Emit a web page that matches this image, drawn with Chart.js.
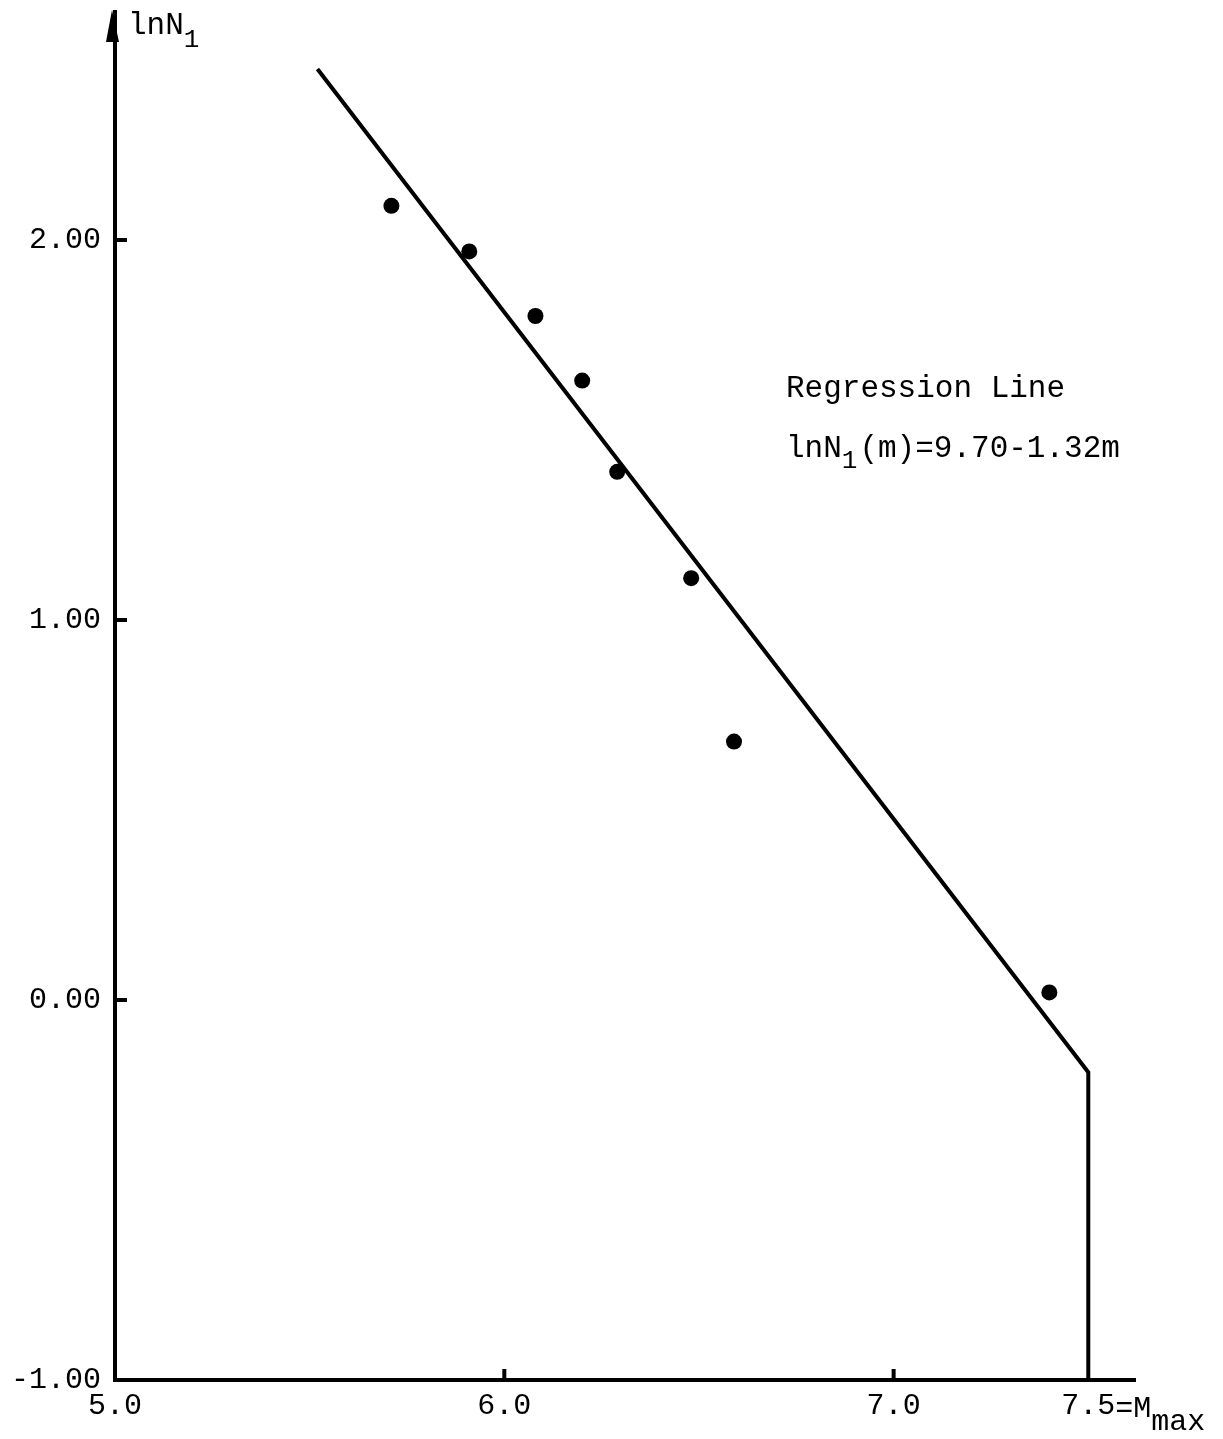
<!DOCTYPE html>
<html>
<head>
<meta charset="utf-8">
<title>lnN1 vs magnitude</title>
<script src="https://cdn.jsdelivr.net/npm/chart.js@4.4.1/dist/chart.umd.min.js"></script>
<style>
  body { margin: 0; background: #fff; }
  #wrap { position: relative; width: 1223px; height: 1439px; }
</style>
</head>
<body>
<div id="wrap"><canvas id="chart"></canvas></div>
<script>
// tick labels
var xTicks = [5.0, 6.0, 7.0, 7.5];
var yTicks = [-1.0, 0.0, 1.0, 2.0];

// observed points (magnitude m, lnN1)
var magnitude = [5.71, 5.91, 6.08, 6.20, 6.29, 6.48, 6.59, 7.40];
var lnN1 = [2.09, 1.97, 1.80, 1.63, 1.39, 1.11, 0.68, 0.02];

// regression line, cut off at Mmax and dropped to the axis
var lineM = [5.52, 7.5, 7.5];
var lineLnN = [2.45, -0.19, -1.0];

var FONT = "'Liberation Mono', 'Courier New', monospace";

var points = magnitude.map(function (m, i) { return { x: m, y: lnN1[i] }; });
var regLine = lineM.map(function (m, i) { return { x: m, y: lineLnN[i] }; });

// arrow on y axis, small tick marks, texts with subscripts
var extras = {
  id: 'extras',
  afterDraw: function (chart) {
    var ctx = chart.ctx;
    var xs = chart.scales.x;
    var ys = chart.scales.y;
    var area = chart.chartArea;
    var left = area.left, bottom = area.bottom;

    ctx.save();
    ctx.fillStyle = '#000';
    ctx.strokeStyle = '#000';

    // arrow head
    ctx.beginPath();
    ctx.moveTo(left - 3, area.top - 2);
    ctx.lineTo(left - 9, area.top + 30);
    ctx.lineTo(left + 4, area.top + 30);
    ctx.closePath();
    ctx.fill();

    // tick marks pointing into the plot
    ctx.lineWidth = 4;
    yTicks.forEach(function (v) {
      if (v <= ys.min) return;
      var py = ys.getPixelForValue(v);
      ctx.beginPath();
      ctx.moveTo(left, py);
      ctx.lineTo(left + 12, py);
      ctx.stroke();
    });
    xTicks.forEach(function (v) {
      if (v <= xs.min || v >= 7.5) return;
      var px = xs.getPixelForValue(v);
      ctx.beginPath();
      ctx.moveTo(px, bottom);
      ctx.lineTo(px, bottom - 11);
      ctx.stroke();
    });

    // "=M max" after the 7.5 label
    ctx.font = '30px ' + FONT;
    ctx.textBaseline = 'alphabetic';
    ctx.textAlign = 'left';
    var labY = bottom + 37;
    var p75 = xs.getPixelForValue(7.5);
    var w75 = ctx.measureText('7.5').width;
    var xx = p75 + w75 / 2;
    ctx.fillText('=M', xx, labY);
    xx += ctx.measureText('=M').width;
    ctx.fillText('max', xx, labY + 13);

    // y axis title
    ctx.font = '31px ' + FONT;
    ctx.fillText('lnN', 128, 34);
    var t = 128 + ctx.measureText('lnN').width;
    ctx.font = '26px ' + FONT;
    ctx.fillText('1', t, 47);

    // regression annotation
    ctx.font = '31px ' + FONT;
    ctx.fillText('Regression Line', 786, 397);
    ctx.fillText('lnN', 786, 457);
    t = 786 + ctx.measureText('lnN').width;
    ctx.font = '26px ' + FONT;
    ctx.fillText('1', t, 468);
    t += ctx.measureText('1').width + 2;
    ctx.font = '31px ' + FONT;
    ctx.fillText('(m)=9.70-1.32m', t, 457);

    ctx.restore();
  }
};

new Chart(document.getElementById('chart'), {
  data: {
    datasets: [{
      type: 'line',
      data: regLine,
      borderColor: '#000',
      borderWidth: 4,
      pointRadius: 0,
      tension: 0,
      fill: false,
      clip: false
    }, {
      type: 'scatter',
      data: points,
      backgroundColor: '#000',
      borderWidth: 0,
      pointRadius: 8,
      pointHoverRadius: 8,
      clip: false
    }]
  },
  options: {
    responsive: true,
    maintainAspectRatio: false,
    animation: false,
    events: [],
    layout: { padding: { top: 12, right: 88, left: 0, bottom: 0 } },
    plugins: {
      legend: { display: false },
      tooltip: { enabled: false },
      title: { display: false }
    },
    scales: {
      x: {
        type: 'linear',
        min: 5.0,
        max: 7.62,
        afterBuildTicks: function (scale) {
          scale.ticks = xTicks.map(function (v) { return { value: v }; });
        },
        afterFit: function (scale) {
          scale.height = 59;
          scale.paddingLeft = 0;
          scale.paddingRight = 0;
        },
        grid: { display: false, drawTicks: false },
        border: { display: true, color: '#000', width: 4 },
        ticks: {
          autoSkip: false,
          maxRotation: 0,
          padding: 8,
          color: '#000',
          font: { family: FONT, size: 30 },
          callback: function (v) { return v.toFixed(1); }
        }
      },
      y: {
        type: 'linear',
        min: -1.0,
        max: 2.6,
        afterBuildTicks: function (scale) {
          scale.ticks = yTicks.map(function (v) { return { value: v }; });
        },
        afterFit: function (scale) {
          scale.width = 115;
          scale.paddingTop = 0;
          scale.paddingBottom = 0;
        },
        grid: { display: false, drawTicks: false },
        border: { display: true, color: '#000', width: 4 },
        ticks: {
          padding: 14,
          color: '#000',
          font: { family: FONT, size: 30 },
          callback: function (v) { return v.toFixed(2); }
        }
      }
    }
  },
  plugins: [extras]
});
</script>
</body>
</html>
